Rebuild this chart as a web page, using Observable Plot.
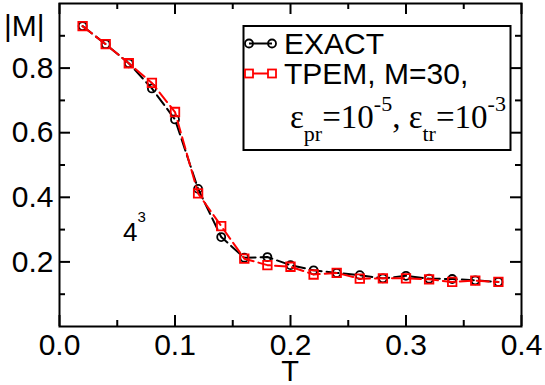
<!DOCTYPE html>
<html><head><meta charset="utf-8">
<script src="https://cdn.jsdelivr.net/npm/d3@7"></script>
<script src="https://cdn.jsdelivr.net/npm/@observablehq/plot@0.6"></script>
<style>body{margin:0;background:#fff} svg{display:block}</style>
</head><body><div id="chart"></div>
<script>
const T      = [0.02,0.04,0.06,0.08,0.10,0.12,0.14,0.16,0.18,0.20,0.22,0.24,0.26,0.28,0.30,0.32,0.34,0.36,0.38];
const exactM = [0.930,0.874,0.815,0.737,0.641,0.426,0.277,0.213,0.215,0.190,0.174,0.166,0.159,0.149,0.157,0.148,0.147,0.143,0.138];
const tpemM  = [0.930,0.874,0.815,0.754,0.664,0.412,0.311,0.210,0.190,0.185,0.161,0.166,0.148,0.149,0.149,0.146,0.138,0.142,0.138];
const xMajor = [0,0.1,0.2,0.3,0.4];
const xMinor = [0.05,0.15,0.25,0.35];
const yMajor = [0.2,0.4,0.6,0.8];
const yMinor = [0.1,0.3,0.5,0.7,0.9];
const seriesNames = ["EXACT","TPEM, M=30,"];

const exact = T.map((t,i)=>({T:t, M:exactM[i]}));
const tpem  = T.map((t,i)=>({T:t, M:tpemM[i]}));

const W=545, H=385, mL=59, mR=24, mT=3, mB=59;
const pw = W-mL-mR, ph = H-mT-mB;
const fmt = d3.format(".1f");

const plot = Plot.plot({
  width: W, height: H,
  marginLeft: mL, marginRight: mR, marginTop: mT, marginBottom: mB,
  style: {fontFamily: "'Liberation Sans', Arial, sans-serif", fontSize: "30px", background: "#fff", color: "#000"},
  x: {domain: [0,0.4]},
  y: {domain: [0,1.0]},
  marks: [
    Plot.ruleX(xMajor, {insetTop: ph-11, strokeWidth: 2}),
    Plot.ruleX(xMajor, {insetBottom: ph-11, strokeWidth: 2}),
    Plot.ruleX(xMinor, {insetTop: ph-6, strokeWidth: 2}),
    Plot.ruleX(xMinor, {insetBottom: ph-6, strokeWidth: 2}),
    Plot.ruleY(yMajor, {insetRight: pw-11, strokeWidth: 2}),
    Plot.ruleY(yMajor, {insetLeft: pw-11, strokeWidth: 2}),
    Plot.ruleY(yMinor, {insetRight: pw-6, strokeWidth: 2}),
    Plot.ruleY(yMinor, {insetLeft: pw-6, strokeWidth: 2}),
    Plot.axisX({ticks: xMajor, tickSize: 0, tickPadding: 7, tickFormat: fmt, fontSize: 30, label: null}),
    Plot.axisY({ticks: yMajor, tickSize: 0, tickPadding: 6, tickFormat: fmt, fontSize: 30, label: null}),
    Plot.line(exact, {x: "T", y: "M", stroke: "black", strokeWidth: 2, strokeDasharray: "12,5"}),
    Plot.dot(exact, {x: "T", y: "M", r: 4, stroke: "black", fill: "none", strokeWidth: 1.8}),
    Plot.line(tpem, {x: "T", y: "M", stroke: "#ff0000", strokeWidth: 2, strokeDasharray: "12,5"}),
    Plot.dot(tpem, {x: "T", y: "M", symbol: "square", r: 4.8, stroke: "#ff0000", fill: "none", strokeWidth: 1.8}),
    Plot.frame({stroke: "black", strokeWidth: 2})
  ]
});
document.getElementById("chart").appendChild(plot);

const svg = d3.select(plot);
const sans = "'Liberation Sans', Arial, sans-serif";
const serif = "'Liberation Serif', 'Times New Roman', serif";
const g = svg.append("g").attr("text-anchor", "start").attr("fill", "black");

// axis titles
g.append("text").attr("x", 4).attr("y", 36).attr("font-family", sans).attr("font-size", 30).text("|M|");
g.append("text").attr("x", 290).attr("y", 381).attr("text-anchor","middle").attr("font-family", sans).attr("font-size", 29).text("T");

// 4^3 annotation
const ann = g.append("text").attr("x", 123).attr("y", 241).attr("font-family", sans).attr("font-size", 26);
ann.append("tspan").text("4");
ann.append("tspan").attr("font-size", 15).attr("dy", -19).text("3");

// legend
const lg = g.append("g");
lg.append("rect").attr("x", 243.5).attr("y", 26).attr("width", 267).attr("height", 124)
  .attr("fill", "white").attr("stroke", "black").attr("stroke-width", 2);
lg.append("line").attr("x1", 249).attr("x2", 272).attr("y1", 43.5).attr("y2", 43.5).attr("stroke", "black").attr("stroke-width", 2);
[249, 272].forEach(cx => lg.append("circle").attr("cx", cx).attr("cy", 43.5).attr("r", 4).attr("fill", "none").attr("stroke", "black").attr("stroke-width", 1.8));
lg.append("text").attr("x", 284).attr("y", 53.5).attr("font-family", sans).attr("font-size", 30).text(seriesNames[0]);
lg.append("line").attr("x1", 249).attr("x2", 272).attr("y1", 73.5).attr("y2", 73.5).attr("stroke", "#ff0000").attr("stroke-width", 2);
[249, 272].forEach(cx => lg.append("rect").attr("x", cx-4).attr("y", 69.5).attr("width", 8).attr("height", 8).attr("fill", "white").attr("stroke", "#ff0000").attr("stroke-width", 1.8));
lg.append("text").attr("x", 284).attr("y", 83.5).attr("font-family", sans).attr("font-size", 30).text(seriesNames[1]);
const e = lg.append("text").attr("x", 290).attr("y", 128).attr("font-family", serif).attr("font-size", 33);
e.append("tspan").text("ε");
e.append("tspan").attr("font-size", 22).attr("dy", 13).text("pr");
e.append("tspan").attr("dy", -13).text("=10");
e.append("tspan").attr("font-size", 22).attr("dy", -17).text("-5");
e.append("tspan").attr("dy", 17).text(", ε");
e.append("tspan").attr("font-size", 22).attr("dy", 13).text("tr");
e.append("tspan").attr("dy", -13).text("=10");
e.append("tspan").attr("font-size", 22).attr("dy", -17).text("-3");
</script></body></html>
